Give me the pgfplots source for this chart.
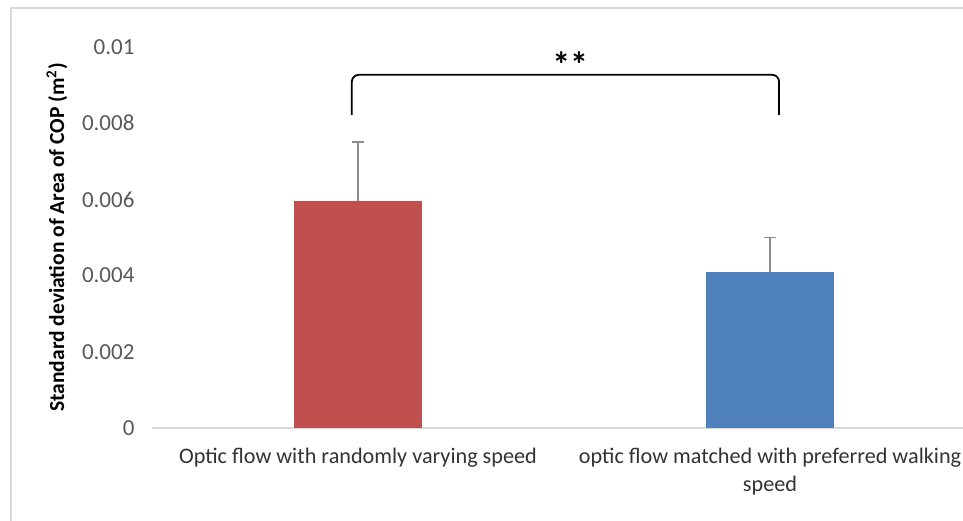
\documentclass[border=0pt]{standalone}
\usepackage{fontspec}
\setmainfont{Carlito}
\usepackage{pgfplots}
\pgfplotsset{compat=1.18}
\definecolor{cred}{HTML}{C0504D}
\definecolor{cblue}{HTML}{4F81BD}
\definecolor{tickc}{HTML}{595959}
\definecolor{framec}{HTML}{D9D9D9}
\definecolor{errc}{HTML}{8C8C8C}
\begin{document}
\begin{tikzpicture}
\useasboundingbox (0pt,0pt) rectangle (963pt,520pt);
\fill[white] (0pt,0pt) rectangle (963pt,520pt);
\draw[framec, line width=2pt] (11pt,-5pt) -- (11pt,512pt) -- (975pt,512pt);
\begin{axis}[
  at={(152pt,92pt)}, anchor=south west,
  scale only axis, width=811pt, height=381pt,
  xmin=-0.5, xmax=1.4684, ymin=0, ymax=0.01,
  clip=false,
  scaled y ticks=false,
  axis x line*=bottom, axis y line*=left,
  x axis line style={draw=framec, line width=1.5pt, -},
  y axis line style={draw=none},
  major tick length=0pt,
  xtick={0,1},
  xticklabels={{Optic flow with randomly varying speed},{optic flow matched with preferred walking\\speed}},
  xticklabel style={align=center, font=\fontsize{22.2}{28}\selectfont, text=black!80, yshift=-17pt},
  ytick={0,0.002,0.004,0.006,0.008,0.01},
  yticklabels={0,0.002,0.004,0.006,0.008,0.01},
  yticklabel style={font=\fontsize{23}{27}\selectfont, text=tickc, xshift=-14pt},
  ylabel={Standard deviation of Area of COP (m\textsuperscript{2})},
  ylabel style={at={(axis description cs:-0.1172,0.5)}, anchor=center, rotate=0, font=\bfseries\fontsize{21.5}{25}\selectfont},
  ybar, bar width=128pt, bar shift=0pt,
  error bars/y dir=plus, error bars/y explicit,
  error bars/error bar style={errc, line width=1.5pt},
  error bars/error mark options={errc, line width=1.5pt, mark size=6pt, rotate=90},
]
\addplot[fill=cred, draw=none] coordinates {(0,0.00595) +- (0,0.00155)};
\addplot[fill=cblue, draw=none] coordinates {(1,0.0041) +- (0,0.0009)};
\draw[black, line width=1.8pt, rounded corners=7pt]
  (axis cs:-0.015,0.00822) -- (axis cs:-0.015,0.00927) -- (axis cs:1.022,0.00927) -- (axis cs:1.022,0.00822);
\node[font=\bfseries\fontsize{36}{40}\selectfont, anchor=north, inner sep=0pt] at (axis cs:0.515,0.00987) {**};
\end{axis}
\end{tikzpicture}
\end{document}
